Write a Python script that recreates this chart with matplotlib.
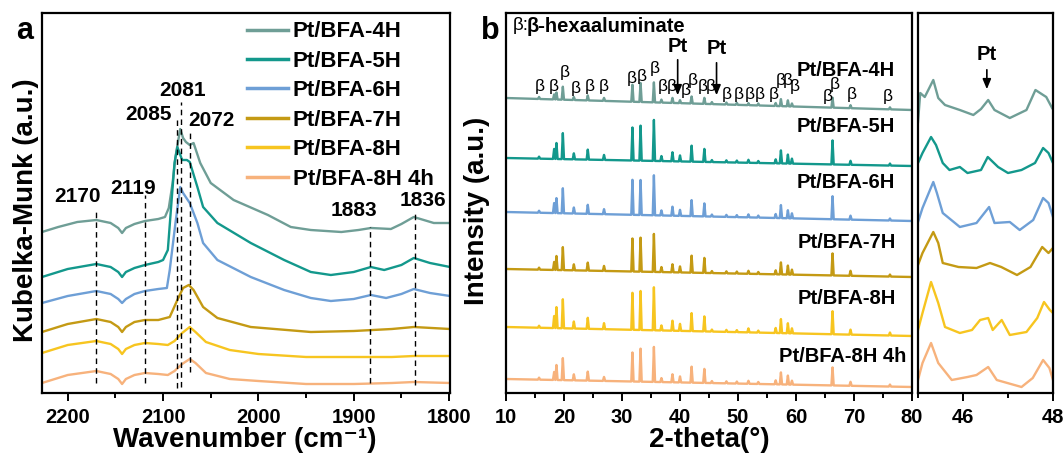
import numpy as np
import matplotlib.pyplot as plt
from matplotlib.ticker import MultipleLocator

plt.rcParams['font.family'] = ['Liberation Sans', 'DejaVu Sans']
plt.rcParams['font.weight'] = 'bold'
plt.rcParams['axes.linewidth'] = 1.6

names = ['Pt/BFA-4H', 'Pt/BFA-5H', 'Pt/BFA-6H', 'Pt/BFA-7H', 'Pt/BFA-8H', 'Pt/BFA-8H 4h']
colors = ['#6f9e96', '#13988c', '#6e9fd6', '#c49a14', '#f7c520', '#f7b27c']

# ---- panel a: DRIFTS spectra (wavenumber, offset intensity) ----
wn_4h = [2227, 2210, 2190, 2170, 2155, 2147, 2143, 2139, 2130, 2119, 2105, 2098, 2094, 2090, 2087,
         2082, 2079, 2076, 2072, 2068, 2061, 2050, 2026, 1990, 1966, 1945, 1913, 1895, 1882, 1861,
         1850, 1837, 1816, 1799]
km_4h = [161, 166, 171, 173, 170, 165, 160, 165, 169, 172, 174, 176, 185, 210, 236,
         264, 255, 251, 248, 250, 230, 210, 193, 178, 166, 163, 161, 163, 165, 164,
         169, 176, 170, 170]

wn_5h = [2227, 2200, 2170, 2155, 2147, 2143, 2139, 2130, 2119, 2105, 2100, 2095, 2091, 2088, 2085,
         2080, 2075, 2072, 2064, 2058, 2043, 2008, 1973, 1945, 1924, 1900, 1882, 1868, 1850, 1837,
         1820, 1799]
km_5h = [116, 124, 129, 126, 121, 116, 121, 125, 128, 131, 133, 143, 193, 230, 246,
         233, 233, 231, 206, 186, 170, 150, 133, 121, 118, 121, 126, 123, 128, 135,
         130, 126]

wn_6h = [2227, 2200, 2170, 2155, 2147, 2143, 2139, 2130, 2119, 2105, 2096, 2093, 2087, 2082, 2079,
         2072, 2064, 2058, 2043, 2008, 1973, 1945, 1924, 1900, 1882, 1866, 1850, 1837, 1820, 1799]
km_6h = [90, 97, 102, 99, 94, 90, 94, 99, 102, 104, 105, 123, 170, 206, 200,
         190, 170, 150, 133, 116, 103, 95, 92, 94, 98, 95, 99, 104, 100, 97]

wn_7h = [2227, 2200, 2170, 2155, 2147, 2143, 2139, 2130, 2119, 2105, 2093, 2085, 2079, 2073, 2068,
         2058, 2043, 2008, 1945, 1900, 1860, 1837, 1799]
km_7h = [61, 69, 74, 71, 66, 61, 66, 71, 73, 73, 76, 93, 105, 108, 103,
         86, 75, 66, 61, 62, 64, 66, 64]

wn_8h = [2227, 2200, 2170, 2155, 2147, 2143, 2139, 2130, 2119, 2105, 2095, 2088, 2080, 2072, 2066,
         2055, 2030, 2000, 1950, 1900, 1860, 1837, 1799]
km_8h = [40, 48, 52, 49, 44, 39, 44, 48, 50, 49, 48, 52, 60, 66, 61,
         51, 43, 39, 36, 36, 36, 37, 37]

wn_8h4 = [2227, 2200, 2170, 2155, 2147, 2143, 2139, 2130, 2119, 2105, 2095, 2088, 2080, 2072, 2066,
          2055, 2030, 2000, 1950, 1900, 1860, 1837, 1799]
km_8h4 = [10, 18, 22, 19, 14, 9, 14, 18, 20, 19, 18, 22, 29, 34, 30,
          20, 14, 12, 9, 9, 10, 11, 10]

ir_x = [wn_4h, wn_5h, wn_6h, wn_7h, wn_8h, wn_8h4]
ir_y = [km_4h, km_5h, km_6h, km_7h, km_8h, km_8h4]

band_pos = [2170, 2119, 2085, 2081, 2072, 1883, 1836]
band_lo = [10, 10, 5, 6, 21, 10, 8]
band_hi = [185, 198, 273, 291, 261, 166, 180]
band_lab_x = [2190, 2131, 2115, 2080, 2049, 1900, 1827]
band_lab_y = [196, 204, 279, 302, 273, 182, 192]

# ---- panel b: XRD peak table ----
peak_pos = [15.7, 18.3, 18.7, 19.8, 21.7, 24.1, 26.9, 31.8, 33.2, 35.5, 36.8, 38.7, 40.0, 42.0,
            44.2, 45.5, 48.0, 49.8, 51.8, 53.5, 56.5, 57.4, 58.6, 59.3, 66.3, 69.4, 76.2]
peaks_4h = [2, 5, 7, 13, 3, 5, 3, 17, 19, 20, 3, 5, 3, 7, 6, 2, 2, 2, 2, 2, 3, 7, 6, 3, 10, 3, 2]
peaks_5h = [2, 10, 16, 26, 6, 10, 5, 33, 35, 41, 5, 9, 6, 16, 13, 2, 2, 2, 3, 2, 4, 13, 9, 5, 24, 4, 2]
peaks_6h = [2, 10, 15, 25, 6, 9, 5, 35, 35, 40, 5, 9, 6, 16, 13, 2, 2, 2, 3, 2, 4, 13, 8, 5, 23, 4, 2]
peaks_7h = [2, 8, 14, 23, 6, 8, 5, 33, 34, 38, 5, 8, 6, 17, 15, 2, 2, 2, 3, 2, 4, 12, 9, 5, 22, 5, 2]
peaks_8h = [2, 12, 21, 29, 7, 11, 6, 37, 39, 43, 5, 10, 7, 18, 15, 2, 2, 2, 4, 2, 5, 14, 10, 5, 23, 5, 3]
peaks_8h4 = [2, 8, 15, 22, 6, 9, 4, 29, 33, 35, 4, 8, 6, 16, 14, 2, 2, 2, 3, 2, 4, 12, 9, 4, 18, 4, 2]
xrd_peaks = [peaks_4h, peaks_5h, peaks_6h, peaks_7h, peaks_8h, peaks_8h4]
base_start = [295, 235, 181, 124, 66, 14]
base_end = [283, 227, 172, 116, 57, 6]
lab_y = [323, 266, 211, 150, 95, 36]
lab_x = [77.1, 77.1, 77.1, 77.2, 77.3, 79.1]

beta_x = [15.9, 18.2, 20.2, 22.1, 24.5, 26.9, 31.7, 33.4, 35.6, 37.0, 38.6, 41.0, 42.2, 43.9,
          45.3, 48.0, 50.1, 52.1, 53.8, 56.1, 57.4, 58.6, 59.8, 65.4, 66.7, 69.6, 75.9]
beta_y = [306, 306, 320, 304, 306, 306, 315, 317, 324, 306, 306, 302, 312, 306,
          306, 298, 298, 298, 298, 299, 312, 313, 307, 297, 308, 299, 296]

# ---- panel c: zoom 45-48 ----
zx_4h = [45.0, 45.05, 45.15, 45.34, 45.45, 45.6, 45.93, 46.23, 46.4, 46.56, 46.7, 47.04, 47.41, 47.61, 47.85, 47.98]
zy_4h = [271, 300, 296, 313, 295, 288, 283, 278, 284, 293, 283, 275, 283, 303, 296, 285]
zx_5h = [45.0, 45.1, 45.29, 45.4, 45.55, 45.7, 45.93, 46.1, 46.4, 46.55, 46.78, 47.0, 47.3, 47.6, 47.78, 47.9, 48.0]
zy_5h = [230, 240, 256, 248, 230, 223, 226, 220, 223, 236, 226, 220, 223, 230, 245, 240, 230]
zx_6h = [45.0, 45.1, 45.34, 45.42, 45.55, 45.93, 46.3, 46.58, 46.7, 47.04, 47.26, 47.56, 47.78, 47.9, 48.0]
zy_6h = [171, 185, 211, 200, 180, 166, 170, 186, 170, 171, 163, 173, 195, 190, 176]
zx_7h = [45.0, 45.1, 45.34, 45.45, 45.55, 45.9, 46.3, 46.6, 46.85, 47.2, 47.5, 47.76, 47.9, 48.0]
zy_7h = [128, 140, 161, 150, 130, 126, 125, 130, 126, 118, 126, 146, 140, 145]
zx_8h = [45.0, 45.1, 45.29, 45.45, 45.6, 45.93, 46.2, 46.38, 46.56, 46.66, 46.86, 47.04, 47.41, 47.65, 47.8, 47.93, 48.0]
zy_8h = [63, 80, 111, 90, 66, 60, 63, 73, 75, 63, 73, 58, 61, 75, 91, 83, 80]
zx_8h4 = [45.0, 45.1, 45.29, 45.45, 45.75, 46.1, 46.3, 46.56, 46.75, 47.3, 47.55, 47.78, 47.92, 48.0]
zy_8h4 = [13, 30, 50, 30, 13, 16, 18, 26, 13, 6, 15, 33, 25, 13]
zoom_x = [zx_4h, zx_5h, zx_6h, zx_7h, zx_8h, zx_8h4]
zoom_y = [zy_4h, zy_5h, zy_6h, zy_7h, zy_8h, zy_8h4]


def stick_pattern(b0, b1, heights, hw=0.2):
    xs = [10.0]
    for p in peak_pos:
        xs += [p - hw, p, p + hw]
    xs.append(80.0)
    xs = np.array(xs)
    ys = np.interp(xs, [10, 80], [b0, b1])
    ys[2:-1:3] += np.array(heights)
    return xs, ys


W, H = 1064, 459
fig = plt.figure(figsize=(W / 100, H / 100), dpi=100)
bot, hgt = (H - 393) / H, 380 / H
ax_a = fig.add_axes([42 / W, bot, 408 / W, hgt])
ax_b = fig.add_axes([506 / W, bot, 406 / W, hgt])
ax_c = fig.add_axes([918 / W, bot, 135 / W, hgt])

for ax in (ax_a, ax_b, ax_c):
    ax.set_ylim(0, 380)
    ax.set_yticks([])
    ax.tick_params(axis='x', which='major', length=6, width=1.4, labelsize=14.5, pad=5)
    ax.tick_params(axis='x', which='minor', length=3.5, width=1.4)

# panel a
for x, y, c, n in zip(ir_x, ir_y, colors, names):
    ax_a.plot(x, y, color=c, lw=1.7, label=n)
for p, lo, hi in zip(band_pos, band_lo, band_hi):
    ax_a.plot([p, p], [lo, hi], color='black', lw=1.0, ls=(0, (4, 3)))
for p, tx, ty in zip(band_pos, band_lab_x, band_lab_y):
    ax_a.text(tx, ty, str(p), ha='center', va='center', fontsize=15, fontweight='bold')
ax_a.set_xlim(2227, 1799)
ax_a.xaxis.set_major_locator(MultipleLocator(100))
ax_a.xaxis.set_minor_locator(MultipleLocator(50))
ax_a.set_xlabel('Wavenumber (cm⁻¹)', fontsize=20, fontweight='bold')
ax_a.xaxis.set_label_coords(0.4975, -0.09)
ax_a.set_ylabel('Kubelka-Munk (a.u.)', fontsize=20, fontweight='bold')
ax_a.yaxis.set_label_coords(-0.007, 0.48)
leg = ax_a.legend(loc='upper left', bbox_to_anchor=(0.502, 0.978), frameon=False,
                  fontsize=16, handlelength=1.85, handletextpad=0.22, labelspacing=0.38,
                  borderpad=0, borderaxespad=0)
for ln in leg.get_lines():
    ln.set_linewidth(2.5)

# panel b
for b0, b1, pk, c in zip(base_start, base_end, xrd_peaks, colors):
    xs, ys = stick_pattern(b0, b1, pk)
    ax_b.plot(xs, ys, color=c, lw=1.7)
for n, lx, ly in zip(names, lab_x, lab_y):
    ax_b.text(lx, ly, n, ha='right', va='center', fontsize=14.5, fontweight='bold')
for bx, by in zip(beta_x, beta_y):
    ax_b.text(bx, by, 'β', ha='center', va='center', fontsize=12.5, fontweight='normal')
ax_b.text(11.2, 367, 'β:', ha='left', va='center', fontsize=13.5, fontweight='normal')
ax_b.text(13.6, 367, 'β-hexaaluminate', ha='left', va='center', fontsize=14.5, fontweight='bold')
for px, ty, y0, y1 in [(39.6, 346, 336, 295), (46.3, 344, 333, 295)]:
    ax_b.text(px, ty, 'Pt', ha='center', va='center', fontsize=14.5, fontweight='bold')
    ax_b.annotate('', xy=(px, y1), xytext=(px, y0),
                  arrowprops=dict(arrowstyle='-|>,head_width=0.25,head_length=0.6', color='black', lw=1.2))
ax_b.set_xlim(10, 80)
ax_b.xaxis.set_major_locator(MultipleLocator(10))
ax_b.xaxis.set_minor_locator(MultipleLocator(5))
ax_b.set_xlabel('2-theta(°)', fontsize=20, fontweight='bold')
ax_b.xaxis.set_label_coords(0.502, -0.09)
ax_b.set_ylabel('Intensity (a.u.)', fontsize=20, fontweight='bold')
ax_b.yaxis.set_label_coords(-0.04, 0.48)

# panel c
for x, y, c in zip(zoom_x, zoom_y, colors):
    ax_c.plot(x, y, color=c, lw=1.7)
ax_c.text(46.53, 338, 'Pt', ha='center', va='center', fontsize=14.5, fontweight='bold')
ax_c.annotate('', xy=(46.53, 301), xytext=(46.53, 326),
              arrowprops=dict(arrowstyle='-|>,head_width=0.25,head_length=0.6', color='black', lw=1.2))
ax_c.set_xlim(45, 48)
ax_c.set_xticks([46, 48])
ax_c.xaxis.set_minor_locator(MultipleLocator(1))

fig.text(25 / W, 1 - 31 / H, 'a', ha='center', va='center', fontsize=22, fontweight='bold')
fig.text(490 / W, 1 - 31 / H, 'b', ha='center', va='center', fontsize=22, fontweight='bold')

fig.savefig('out.png', dpi=100)
